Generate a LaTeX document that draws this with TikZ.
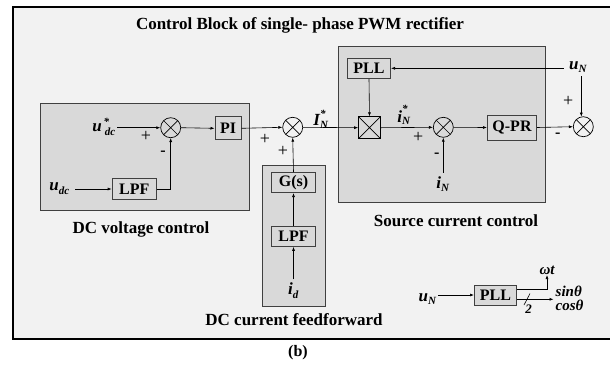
\documentclass[tikz,border=0pt]{standalone}
\usepackage{fontspec}
\setmainfont{Liberation Serif}
\usetikzlibrary{arrows.meta,calc}
\definecolor{bgpanel}{HTML}{F2F2F2}
\definecolor{boxgray}{HTML}{D9D9D9}
\definecolor{edgegray}{HTML}{404040}
\newcommand{\vr}[1]{\mbox{\fontsize{17}{17}\selectfont\bfseries\itshape #1}}
\newcommand{\vs}[1]{\mbox{\fontsize{11}{11}\selectfont\bfseries\itshape #1}}
\begin{document}
\begin{tikzpicture}[x=1pt,y=-1pt,
  arr/.style={-{Latex[length=4pt,width=3pt]}, line width=0.6pt},
  ln/.style={line width=0.6pt},
  panel/.style={draw=edgegray, fill=boxgray, line width=1pt},
  blk/.style={draw=edgegray, fill=boxgray, line width=1pt, inner sep=0pt,
    font=\fontsize{16}{16}\selectfont\bfseries},
  sumj/.style={circle, draw=black, line width=0.7pt, minimum size=20pt, inner sep=0pt,
    path picture={\draw[line width=0.7pt] (path picture bounding box.north west) -- (path picture bounding box.south east)
      (path picture bounding box.north east) -- (path picture bounding box.south west);}},
  mulj/.style={draw=black, fill=boxgray, line width=0.7pt, minimum size=22pt, inner sep=0pt,
    path picture={\draw[line width=0.7pt] (path picture bounding box.north west) -- (path picture bounding box.south east)
      (path picture bounding box.north east) -- (path picture bounding box.south west);}},
  lab/.style={font=\fontsize{17}{20}\selectfont\bfseries, inner sep=1pt},
  var/.style={font=\fontsize{15}{15}\selectfont\bfseries\itshape, inner sep=0.5pt},
  sgn/.style={font=\fontsize{18}{18}\selectfont, inner sep=0pt},
  msgn/.style={font=\fontsize{16}{16}\selectfont\bfseries, inner sep=0pt}
]
\useasboundingbox (0,0) rectangle (610,368);
\fill[white] (0,0) rectangle (610,368);
\draw[fill=bgpanel, draw=black, line width=1.2pt] (13,7) rectangle (630,339);

\node[lab] (title) at (300,25) {Control Block of single- phase PWM rectifier};

% panels
\draw[panel] (40,103) rectangle (249,210);
\draw[panel] (262,165) rectangle (325,306.5);
\draw[panel] (338.5,46.5) rectangle (545,202.5);

\node[lab] (dcvl) at (141,229) {DC voltage control};
\node[lab] (dcfl) at (294,320) {DC current feedforward};
\node[lab] (sccl) at (456,221) {Source current control};

% DC voltage control
\node[sumj] (s1) at (170.7,127.7) {};
\node[blk, minimum width=26pt, minimum height=23pt] (pi) at (228,128.3) {PI};
\node[anchor=east, inner sep=1pt] (udcs) at (117,127) {$\vr{u}^{\vs{\,*}}_{\vs{\;dc}}$};
\node[blk, minimum width=44pt, minimum height=21pt] (lpf1) at (134.2,189) {LPF};
\node[anchor=east, inner sep=1pt] (udc) at (71,189) {$\vr{u}_{\vs{dc}}$};
\draw[arr] (udcs.east |- s1.west) -- (s1.west);
\draw[arr] ($(udc.east)+(4,0)$) -- (lpf1.west);
\draw[arr] (lpf1.east) -| (s1.south);
\draw[arr] (s1.east) -- (pi.west);
\node[sgn] (p1) at (146,136.5) {+};
\node[msgn] (m1) at (163,153) {-};

% feedforward
\node[sumj] (s2) at (292.7,127.3) {};
\node[blk, minimum width=44pt, minimum height=20pt] (gs) at (293.5,182.5) {G(s)};
\node[blk, minimum width=44pt, minimum height=20pt] (lpf2) at (293.5,236.3) {LPF};
\node (id) at (293.5,291) {$\vr{i}_{\vs{d}}$};
\draw[arr] (id.north) -- (lpf2.south);
\draw[arr] (lpf2.north) -- (gs.south);
\draw[arr] (gs.north) -- (s2.south);
\draw[arr] (pi.east) -- (s2.west);
\node[sgn] (p2) at (265,139.5) {+};
\node[sgn] (p3) at (283,151) {+};
\node (INs) at (321,119) {$\vr{I}^{\vs{*}}_{\vs{N}}$};

% source current control
\node[mulj] (mul) at (369.5,127.7) {};
\node[blk, minimum width=43pt, minimum height=20pt] (pll1) at (369,68.3) {PLL};
\node[sumj] (s3) at (443.3,127.3) {};
\node[blk, minimum width=49pt, minimum height=25pt] (qpr) at (512,127.5) {Q-PR};
\node[sumj, fill=bgpanel] (s4) at (583.3,126.7) {};
\node (uN) at (578,67) {$\vr{u}_{\vs{N}}$};
\node (iN) at (443,184) {$\vr{i}_{\vs{N}}$};
\node (ins) at (404,115) {$\vr{i}^{\vs{*}}_{\vs{N}}$};
\draw[arr] (s2.east) -- (mul.west);
\draw[arr] (pll1.south) -- (mul.north);
\draw[arr] (mul.east) -- (s3.west);
\draw[arr] (s3.south |- iN.north) -- (s3.south);
\draw[arr] (s3.east) -- (qpr.west);
\draw[arr] (qpr.east) -- (s4.west);
\draw[arr] ($(uN.west |- pll1.east)+(-2,0)$) -- (pll1.east);
\draw[arr] ($(uN.south -| s4.north)+(-2,0)$) -- ($(s4.north)+(-2,0.3)$);
\node[sgn] (p4) at (418.3,137.5) {+};
\node[msgn] (m3) at (436.7,155) {-};
\node[sgn] (p5) at (568.3,101.7) {+};
\node[msgn] (m4) at (557.7,135.5) {-};

% bottom PLL
\node[blk, minimum width=42pt, minimum height=20pt] (pll2) at (495.5,295) {PLL};
\node[anchor=east] (uN2) at (440,299) {$\vr{u}_{\vs{N}}$};
\draw[arr] ($(uN2.east |- pll2.west)+(-2,0)$) -- (pll2.west);
\node[var, anchor=south] (wt) at (547,275) {ωt};
\coordinate (c2) at (553.5,299.3);
\draw[arr] ($(pll2.east)+(0,-6)$) -| (wt.south);
\draw[arr] ($(pll2.east)+(0,4.3)$) -- (c2);
\draw[ln] (524,305) -- (530,293.5);
\node[font=\fontsize{13}{13}\selectfont\bfseries\itshape, inner sep=0pt] (two) at (528.5,309) {2};
\node[var, anchor=west] (sin) at (555,291) {sinθ};
\node[var, anchor=west] (cos) at (555,305) {cosθ};

\node[font=\fontsize{16}{16}\selectfont\bfseries] (b) at (298,353) {(b)};
\end{tikzpicture}
\end{document}
